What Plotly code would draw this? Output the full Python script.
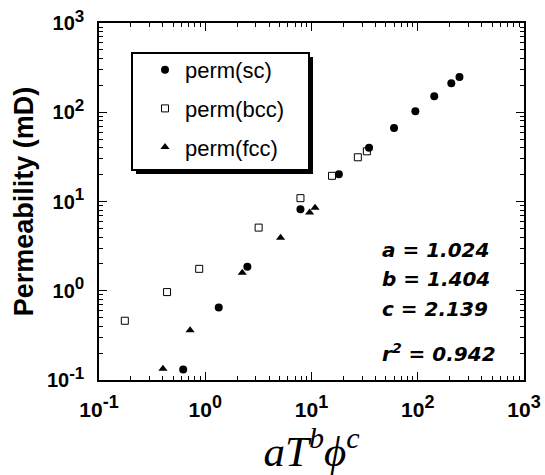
import plotly.graph_objects as go

# Data
sc_x = [0.62, 1.34, 2.49, 7.87, 18.1, 34.8, 59.8, 95, 143, 207, 247]
sc_y = [0.131, 0.65, 1.86, 8.2, 20.2, 39.9, 66.8, 102.6, 151, 211, 249]

bcc_x = [0.175, 0.437, 0.877, 3.18, 7.87, 15.6, 27.3, 33.2]
bcc_y = [0.461, 0.966, 1.76, 5.1, 10.9, 19.4, 31.3, 36.5]

fcc_x = [0.40, 0.72, 2.23, 5.12, 9.6, 10.8]
fcc_y = [0.134, 0.36, 1.59, 3.92, 7.53, 8.5]

tick_vals = [0.1, 1, 10, 100, 1000]
tick_exps = ["-1", "0", "1", "2", "3"]

fit_labels = ["a = 1.024", "b = 1.404", "c = 2.139", "r<sup>2</sup> = 0.942"]

W, H = 545, 475
L, R, T, B = 99, 21, 23, 95
PW, PH = W - L - R, H - T - B


def px(x):
    return (x - L) / PW


def py(y):
    return (H - B - y) / PH


def tick_text(sup_size):
    return ["10<sup><span style='font-size:%dpx'>%s</span></sup>" % (sup_size, e)
            for e in tick_exps]


fig = go.Figure()
fig.add_trace(go.Scatter(x=sc_x, y=sc_y, mode="markers", name="perm(sc)",
                         legendgroup="a",
                         marker=dict(symbol="circle", size=8, color="black")))
fig.add_trace(go.Scatter(x=bcc_x, y=bcc_y, mode="markers", name="perm(bcc)",
                         legendgroup="b",
                         marker=dict(symbol="square-open", size=7, color="black",
                                     line=dict(width=1, color="black"))))
fig.add_trace(go.Scatter(x=fcc_x, y=fcc_y, mode="markers", name="perm(fcc)",
                         legendgroup="c",
                         marker=dict(symbol="triangle-up", size=8, color="black")))

axis_common = dict(
    type="log",
    automargin=False,
    showline=True, linecolor="black", linewidth=1.5,
    mirror="allticks",
    ticks="inside", ticklen=8, tickwidth=1, tickcolor="black",
    tickmode="array", tickvals=tick_vals,
    minor=dict(ticks="inside", ticklen=4, tickwidth=1, tickcolor="black",
               dtick="D1", showgrid=False),
    showgrid=False, zeroline=False,
)

fig.update_xaxes(range=[-1, 3], **axis_common,
                 ticktext=tick_text(18),
                 ticklabelstandoff=10,
                 tickfont=dict(family="Liberation Sans", size=21, color="black", weight="bold"),
                 title=dict(text="<i>aT<sup>b</sup>ϕ<sup>c</sup></i>",
                            font=dict(family="Liberation Serif", size=43, color="black"),
                            standoff=28))
fig.update_yaxes(range=[-1, 3], **axis_common,
                 ticktext=tick_text(17),
                 ticklabelstandoff=9,
                 tickfont=dict(family="Liberation Sans", size=20, color="black", weight="bold"),
                 title=dict(text="Permeability (mD)",
                            font=dict(family="Liberation Sans", size=27, color="black",
                                      weight="bold"),
                            standoff=5))

# Legend frame with drop shadow
fig.add_shape(type="rect", xref="paper", yref="paper",
              x0=px(136), x1=px(313), y0=py(174), y1=py(57),
              fillcolor="black", line=dict(width=0), layer="above")
fig.add_shape(type="rect", xref="paper", yref="paper",
              x0=px(132), x1=px(309), y0=py(170), y1=py(53),
              fillcolor="white", line=dict(width=2, color="black"), layer="above")

ann_y = [250, 279, 309, 353]
for txt, yy in zip(fit_labels, ann_y):
    fig.add_annotation(text="<b><i>" + txt + "</i></b>", xref="paper", yref="paper",
                       x=px(380), y=py(yy), xanchor="left", yanchor="middle",
                       showarrow=False,
                       font=dict(family="DejaVu Sans", size=20, color="black"))

fig.update_layout(
    width=W, height=H,
    margin=dict(l=L, r=R, t=T, b=B, autoexpand=False),
    paper_bgcolor="white", plot_bgcolor="white",
    showlegend=True,
    legend=dict(x=px(145), y=py(49), xanchor="left", yanchor="top",
                bgcolor="rgba(0,0,0,0)", borderwidth=0,
                traceorder="grouped", tracegroupgap=7,
                font=dict(family="Liberation Sans", size=22, color="black")),
)

fig.write_html("out.html")
